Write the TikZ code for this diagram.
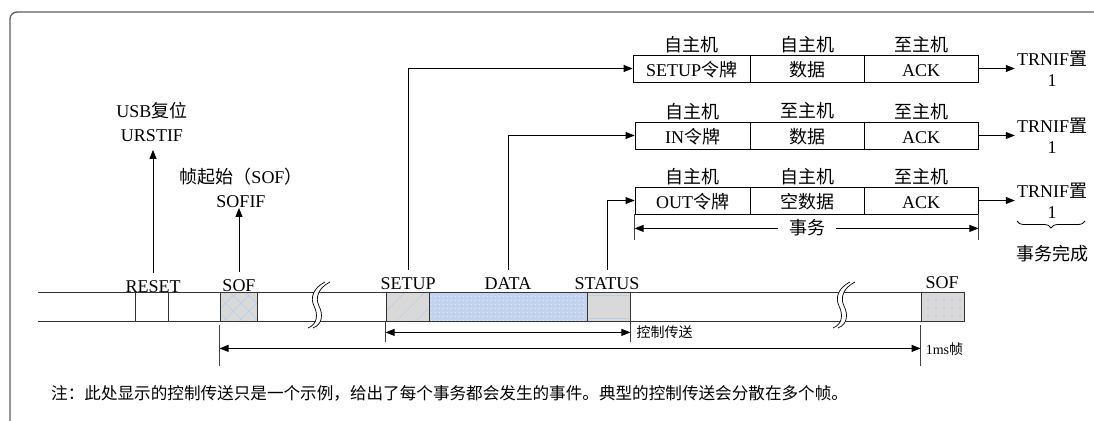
\documentclass[tikz,border=0pt]{standalone}
\usepackage{fontspec}
\setmainfont{Liberation Serif}
\newfontfamily\cjk{Noto Sans CJK SC}
\usetikzlibrary{arrows.meta,patterns.meta,decorations.pathreplacing}
\newcommand\zhs[1]{{\cjk #1}}
\definecolor{framec}{HTML}{5E5E5E}
\definecolor{boxgray}{HTML}{D9D9D9}
\definecolor{hatch}{HTML}{B9CDEB}
\definecolor{datafill}{HTML}{C3D3EE}
\definecolor{datadot}{HTML}{E4EBF7}
\definecolor{sofdot}{HTML}{B3C4E2}
\tikzset{brkmark/.pic={
  \fill[white] (17,0) .. controls (5,6) and (2,16) .. (6,24) .. controls (10,32) and (10,42) .. (0,46)
     -- (5,46) .. controls (15,42) and (15,32) .. (11,24) .. controls (7,16) and (10,6) .. (22,0) -- cycle;
  \draw[line width=0.7pt] (17,0) .. controls (5,6) and (2,16) .. (6,24) .. controls (10,32) and (10,42) .. (0,46);
  \draw[line width=0.7pt] (22,0) .. controls (10,6) and (7,16) .. (11,24) .. controls (15,32) and (15,42) .. (5,46);
}}
\begin{document}
\begin{tikzpicture}[x=1pt,y=-1pt,
  every node/.style={inner sep=0pt},
  big/.style={font=\fontsize{18}{21}\selectfont},
  small/.style={font=\fontsize{14}{16}\selectfont},
  cell/.style={draw=black,line width=0.8pt,minimum height=27pt,big,text height=15pt,text depth=0pt},
  hdr/.style={big,anchor=base},
  lab/.style={big,anchor=base,inner ysep=7pt},
  seg/.style={draw=black!80,line width=0.8pt,minimum height=29pt},
  conn/.style={line width=0.8pt},
  arr/.style={conn,-{Triangle[length=9pt,width=7pt]}},
  dim/.style={conn,{Triangle[length=9pt,width=7pt]}-{Triangle[length=9pt,width=7pt]}},
  tick/.style={line width=0.8pt,draw=black!75}
]
\useasboundingbox (0,0) rectangle (1094,420);
\clip (0,0) rectangle (1094,420);
\draw[framec,line width=1.3pt,rounded corners=7pt] (10,12) rectangle (1130,450);

% timeline
\draw[line width=0.8pt,black!80] (38,292) -- (964,292) (38,321) -- (964,321);
\draw[line width=0.8pt,black!80] (135,292) -- (135,321) (168,292) -- (168,321);
\node[seg,minimum width=37pt,preaction={fill=boxgray},
  preaction={pattern={Lines[angle=45,distance=11pt,line width=0.6pt]},pattern color=hatch},
  preaction={pattern={Lines[angle=-45,distance=11pt,line width=0.6pt]},pattern color=hatch}] (sof1) at (238.5,306.5) {};
\node[seg,minimum width=43pt,preaction={fill=boxgray},
  preaction={pattern={Lines[angle=45,distance=14pt,line width=0.6pt]},pattern color=hatch}] (setup) at (407.5,306.5) {};
\node[seg,minimum width=158pt,preaction={fill=datafill},
  preaction={pattern={Dots[distance=4pt,radius=0.7pt]},pattern color=datadot}] (data) at (508,306.5) {};
\node[seg,minimum width=43pt,fill=boxgray] (status) at (608.5,306.5) {};
\draw[hatch,line width=0.7pt] ([xshift=1pt,yshift=-4pt]status.north west) -- ([xshift=-1pt,yshift=-4pt]status.north east)
  ([xshift=1pt,yshift=3pt]status.south west) -- ([xshift=-1pt,yshift=3pt]status.south east);
\node[seg,minimum width=43pt,preaction={fill=boxgray},
  preaction={pattern={Dots[distance=8pt,radius=0.8pt]},pattern color=sofdot}] (sof2) at (942.5,306.5) {};
\pic at (308,282) {brkmark};
\pic at (833,282) {brkmark};

% timeline labels
\node[lab] (resetL) at (153,292) {RESET};
\node[lab] (sofa) at (239,291) {SOF};
\node[lab] (setupL) at (408,289) {SETUP};
\node[lab] (dataL) at (508,289) {DATA};
\node[lab] (statusL) at (607,289) {STATUS};
\node[lab] (sofb) at (942,288) {SOF};

% interrupt labels
\node[font=\fontsize{18}{24}\selectfont,align=center] (usbL) at (152,122) {USB\zhs{复位}\\URSTIF};
\node[font=\fontsize{18}{24}\selectfont,align=center] (sofL) at (241,188) {\zhs{帧起始（}SOF\zhs{）}\\SOFIF};
\draw[arr] (resetL.north) -- ([yshift=-8pt]resetL.north |- usbL.south);
\draw[arr] (sofa.north) -- (sofa.north |- sofL.south);

% transaction rows
\node[cell,minimum width=117pt] (r1a) at (691.5,68.5) {SETUP\zhs{令牌}};
\node[cell,minimum width=114pt] (r1b) at (807,68.5) {\zhs{数据}};
\node[cell,minimum width=114pt] (r1c) at (921,68.5) {ACK};
\node[hdr] (h1a) at ([yshift=3pt]r1a.north) {\zhs{自主机}};
\node[hdr] (h1b) at ([yshift=3pt]r1b.north) {\zhs{自主机}};
\node[hdr] (h1c) at ([yshift=3pt]r1c.north) {\zhs{至主机}};

\node[cell,minimum width=115pt] (r2a) at (692.5,135.5) {IN\zhs{令牌}};
\node[cell,minimum width=114pt] (r2b) at (807,135.5) {\zhs{数据}};
\node[cell,minimum width=114pt] (r2c) at (921,135.5) {ACK};
\node[hdr] (h2a) at ([yshift=3pt]r2a.north) {\zhs{自主机}};
\node[hdr] (h2b) at ([yshift=4pt]r2b.north) {\zhs{至主机}};
\node[hdr] (h2c) at ([yshift=3pt]r2c.north) {\zhs{至主机}};

\node[cell,minimum width=115pt] (r3a) at (692.5,200.5) {OUT\zhs{令牌}};
\node[cell,minimum width=114pt] (r3b) at (807,200.5) {\zhs{空数据}};
\node[cell,minimum width=114pt] (r3c) at (921,200.5) {ACK};
\node[hdr] (h3a) at ([yshift=3pt]r3a.north) {\zhs{自主机}};
\node[hdr] (h3b) at ([yshift=3pt]r3b.north) {\zhs{自主机}};
\node[hdr] (h3c) at ([yshift=3pt]r3c.north) {\zhs{至主机}};

\draw[arr] (setupL.north) |- (r1a.west);
\draw[arr] (dataL.north) |- (r2a.west);
\draw[arr] (statusL.north) |- (r3a.west);

\node[big,align=center,inner xsep=2pt] (t1) at (1052,68.5) {TRNIF\zhs{置}\\1};
\node[big,align=center,inner xsep=2pt] (t2) at (1052,135.5) {TRNIF\zhs{置}\\1};
\node[big,align=center,inner xsep=2pt] (t3) at (1052,200.5) {TRNIF\zhs{置}\\1};
\draw[arr] (r1c.east) -- (t1.west |- r1c.east);
\draw[arr] (r2c.east) -- (t2.west |- r2c.east);
\draw[arr] (r3c.east) -- (t3.west |- r3c.east);
\draw[conn,decorate,decoration={brace,mirror,amplitude=7pt}] (1017,221) -- (1085,221);
\node[big,anchor=base] (done) at (1052,260) {\zhs{事务完成}};

% transaction dimension
\draw[tick] (r3a.south west) -- ++(0,26);
\draw[tick] (r3c.south east) -- ++(0,26);
\draw[dim] ([yshift=-14pt]r3a.south west) -- ([yshift=-14pt]r3c.south east);
\node[big,fill=white,inner xsep=11pt,inner ysep=1pt] (swL) at (807,228) {\zhs{事务}};

% control transfer dimension
\draw[tick] (setup.south west) -- ++(0,21);
\draw[tick] (status.south east) -- ++(0,21);
\draw[dim] ([yshift=-11pt]setup.south west) -- ([yshift=-11pt]status.south east);
\node[small,anchor=west] (ctlL) at ([xshift=6pt,yshift=-11pt]status.south east) {\zhs{控制传送}};

% frame dimension
\draw[tick] ([yshift=-4pt]sof1.south west) -- ++(0,41);
\draw[tick] ([yshift=-4pt]sof2.south west) -- ++(0,41);
\draw[dim] ([yshift=-27pt]sof1.south west) -- ([yshift=-27pt]sof2.south west);
\node[small,anchor=west] (msL) at ([xshift=5pt,yshift=-28pt]sof2.south west) {1ms\zhs{帧}};

% note
\node[anchor=west,font=\fontsize{16.6}{18}\selectfont] (note) at (51,393) {\zhs{注：此处显示的控制传送只是一个示例，给出了每个事务都会发生的事件。典型的控制传送会分散在多个帧。}};
\end{tikzpicture}
\end{document}
